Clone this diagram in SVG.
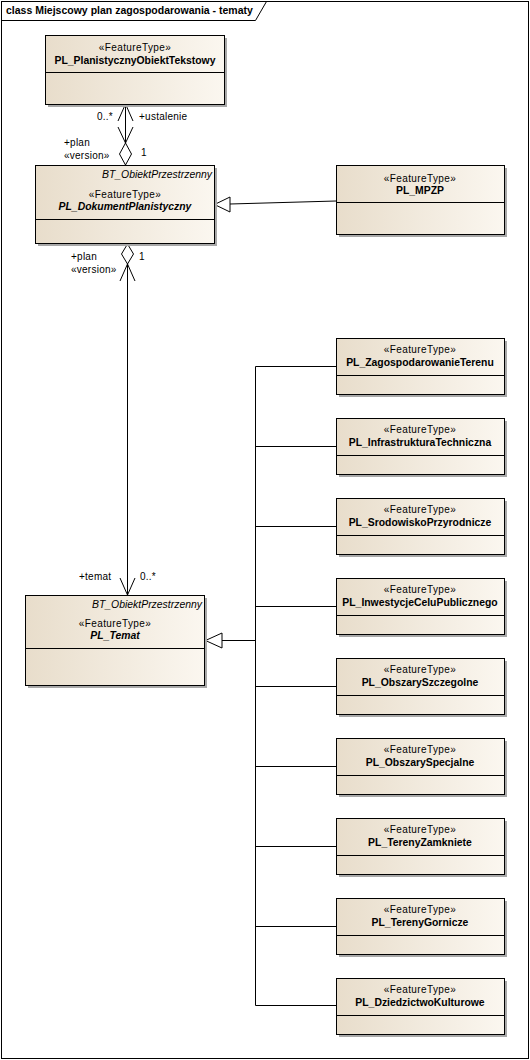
<svg xmlns="http://www.w3.org/2000/svg" width="530" height="1060" viewBox="0 0 530 1060">
<defs>
<linearGradient id="fill" x1="0" y1="0" x2="1" y2="0">
<stop offset="0" stop-color="#e8ddcb"/>
<stop offset="1" stop-color="#fbf7f0"/>
</linearGradient>
<style>
.box{fill:url(#fill);stroke:#000;stroke-width:1}
.sh{fill:#a8a8a8}
.sep{stroke:#000;stroke-width:1}
.st{font-family:"Liberation Sans",Arial,sans-serif;font-size:10px;letter-spacing:0.4px;text-anchor:middle;fill:#000}
.nm{font-family:"Liberation Sans",Arial,sans-serif;font-size:10.4px;font-weight:bold;text-anchor:middle;fill:#000}
.it{font-style:italic}
.par{font-family:"Liberation Sans",Arial,sans-serif;font-size:10px;font-style:italic;text-anchor:end;fill:#000}
.lb{font-family:"Liberation Sans",Arial,sans-serif;font-size:10px;letter-spacing:0.25px;fill:#000}
.ln{fill:none;stroke:#000;stroke-width:1}
.tri{fill:#fff;stroke:#000;stroke-width:1}
</style>
</defs>
<rect x="0" y="0" width="530" height="1060" fill="#fff"/>
<g id="frame">
<rect x="1.5" y="1.5" width="527" height="1057" fill="none" stroke="#000"/>
<path d="M1.5 20.5 H255.5 L266.5 1.5" fill="none" stroke="#000"/>
<text x="6" y="14" font-family="Liberation Sans,Arial,sans-serif" font-size="10.5px" font-weight="bold">class Miejscowy plan zagospodarowania - tematy</text>
</g>
<g id="connectors">
<line class="ln" x1="125.5" y1="104" x2="125.5" y2="143"/>
<polyline class="ln" points="118,121 125.5,104 133,121"/>
<polyline class="ln" points="118,127 125.5,143 133,127"/>
<polygon class="tri" points="125.5,143 131.5,154 125.5,165 119.5,154"/>
<text class="lb" x="97" y="120">0..*</text>
<text class="lb" x="139" y="120">+ustalenie</text>
<text class="lb" x="64" y="146">+plan</text>
<text class="lb" x="64" y="159">«version»</text>
<text class="lb" x="141" y="156">1</text>
<line class="ln" x1="230" y1="204" x2="336" y2="201"/>
<polygon class="tri" points="214.5,204.5 230,197 230,212"/>
<line class="ln" x1="127.5" y1="263" x2="127.5" y2="595"/>
<polygon class="tri" points="127.5,244 133.5,254 127.5,264 121.5,254"/>
<polyline class="ln" points="120,281 127.5,264 135,281"/>
<polyline class="ln" points="120,578 127.5,595 135,578"/>
<text class="lb" x="71" y="260">+plan</text>
<text class="lb" x="71" y="273">«version»</text>
<text class="lb" x="139" y="260">1</text>
<text class="lb" x="79" y="580">+temat</text>
<text class="lb" x="140" y="580">0..*</text>
<polyline class="ln" points="336,366.5 255.5,366.5 255.5,1005.5 336,1005.5"/>
<line class="ln" x1="255.5" y1="446.5" x2="336" y2="446.5"/>
<line class="ln" x1="255.5" y1="526.5" x2="336" y2="526.5"/>
<line class="ln" x1="255.5" y1="606.5" x2="336" y2="606.5"/>
<line class="ln" x1="255.5" y1="686.5" x2="336" y2="686.5"/>
<line class="ln" x1="255.5" y1="766.5" x2="336" y2="766.5"/>
<line class="ln" x1="255.5" y1="846.5" x2="336" y2="846.5"/>
<line class="ln" x1="255.5" y1="926.5" x2="336" y2="926.5"/>
<line class="ln" x1="222" y1="640.5" x2="255.5" y2="640.5"/>
<polygon class="tri" points="205.5,640.5 222,633 222,648"/>
</g>
<g id="PL_PlanistycznyObiektTekstowy">
<rect class="sh" x="48" y="38" width="179" height="69"/>
<rect class="box" x="45.5" y="35.5" width="179" height="69"/>
<line class="sep" x1="45.5" y1="72.5" x2="224.5" y2="72.5"/>
<text class="st" x="135" y="51">«FeatureType»</text>
<text class="nm" x="135" y="64">PL_PlanistycznyObiektTekstowy</text>
</g>
<g id="PL_DokumentPlanistyczny">
<rect class="sh" x="38" y="168" width="179" height="78"/>
<rect class="box" x="35.5" y="165.5" width="179" height="78"/>
<line class="sep" x1="35.5" y1="219.5" x2="214.5" y2="219.5"/>
<text class="par" x="212" y="178" textLength="110" lengthAdjust="spacingAndGlyphs">BT_ObiektPrzestrzenny</text>
<text class="st" x="125" y="198">«FeatureType»</text>
<text class="nm it" x="125" y="210">PL_DokumentPlanistyczny</text>
</g>
<g id="PL_MPZP">
<rect class="sh" x="339" y="168" width="168" height="69"/>
<rect class="box" x="336.5" y="165.5" width="168" height="69"/>
<line class="sep" x1="336.5" y1="202.5" x2="504.5" y2="202.5"/>
<text class="st" x="420" y="182">«FeatureType»</text>
<text class="nm" x="420" y="194">PL_MPZP</text>
</g>
<g id="PL_Temat">
<rect class="sh" x="28" y="598" width="179" height="90"/>
<rect class="box" x="25.5" y="595.5" width="179" height="90"/>
<line class="sep" x1="25.5" y1="648.5" x2="204.5" y2="648.5"/>
<text class="par" x="202" y="608" textLength="110" lengthAdjust="spacingAndGlyphs">BT_ObiektPrzestrzenny</text>
<text class="st" x="115" y="627">«FeatureType»</text>
<text class="nm it" x="115" y="639">PL_Temat</text>
</g>
<g id="PL_ZagospodarowanieTerenu">
<rect class="sh" x="339" y="341" width="168" height="56"/>
<rect class="box" x="336.5" y="338.5" width="168" height="56"/>
<line class="sep" x1="336.5" y1="375.5" x2="504.5" y2="375.5"/>
<text class="st" x="420" y="353">«FeatureType»</text>
<text class="nm" x="420" y="366">PL_ZagospodarowanieTerenu</text>
</g>
<g id="PL_InfrastrukturaTechniczna">
<rect class="sh" x="339" y="421" width="168" height="56"/>
<rect class="box" x="336.5" y="418.5" width="168" height="56"/>
<line class="sep" x1="336.5" y1="455.5" x2="504.5" y2="455.5"/>
<text class="st" x="420" y="433">«FeatureType»</text>
<text class="nm" x="420" y="446">PL_InfrastrukturaTechniczna</text>
</g>
<g id="PL_SrodowiskoPrzyrodnicze">
<rect class="sh" x="339" y="501" width="168" height="56"/>
<rect class="box" x="336.5" y="498.5" width="168" height="56"/>
<line class="sep" x1="336.5" y1="535.5" x2="504.5" y2="535.5"/>
<text class="st" x="420" y="513">«FeatureType»</text>
<text class="nm" x="420" y="526">PL_SrodowiskoPrzyrodnicze</text>
</g>
<g id="PL_InwestycjeCeluPublicznego">
<rect class="sh" x="339" y="581" width="168" height="56"/>
<rect class="box" x="336.5" y="578.5" width="168" height="56"/>
<line class="sep" x1="336.5" y1="615.5" x2="504.5" y2="615.5"/>
<text class="st" x="420" y="593">«FeatureType»</text>
<text class="nm" x="420" y="606">PL_InwestycjeCeluPublicznego</text>
</g>
<g id="PL_ObszarySzczegolne">
<rect class="sh" x="339" y="661" width="168" height="56"/>
<rect class="box" x="336.5" y="658.5" width="168" height="56"/>
<line class="sep" x1="336.5" y1="695.5" x2="504.5" y2="695.5"/>
<text class="st" x="420" y="673">«FeatureType»</text>
<text class="nm" x="420" y="686">PL_ObszarySzczegolne</text>
</g>
<g id="PL_ObszarySpecjalne">
<rect class="sh" x="339" y="741" width="168" height="56"/>
<rect class="box" x="336.5" y="738.5" width="168" height="56"/>
<line class="sep" x1="336.5" y1="775.5" x2="504.5" y2="775.5"/>
<text class="st" x="420" y="753">«FeatureType»</text>
<text class="nm" x="420" y="766">PL_ObszarySpecjalne</text>
</g>
<g id="PL_TerenyZamkniete">
<rect class="sh" x="339" y="821" width="168" height="56"/>
<rect class="box" x="336.5" y="818.5" width="168" height="56"/>
<line class="sep" x1="336.5" y1="855.5" x2="504.5" y2="855.5"/>
<text class="st" x="420" y="833">«FeatureType»</text>
<text class="nm" x="420" y="846">PL_TerenyZamkniete</text>
</g>
<g id="PL_TerenyGornicze">
<rect class="sh" x="339" y="901" width="168" height="56"/>
<rect class="box" x="336.5" y="898.5" width="168" height="56"/>
<line class="sep" x1="336.5" y1="935.5" x2="504.5" y2="935.5"/>
<text class="st" x="420" y="913">«FeatureType»</text>
<text class="nm" x="420" y="926">PL_TerenyGornicze</text>
</g>
<g id="PL_DziedzictwoKulturowe">
<rect class="sh" x="339" y="981" width="168" height="56"/>
<rect class="box" x="336.5" y="978.5" width="168" height="56"/>
<line class="sep" x1="336.5" y1="1015.5" x2="504.5" y2="1015.5"/>
<text class="st" x="420" y="993">«FeatureType»</text>
<text class="nm" x="420" y="1006">PL_DziedzictwoKulturowe</text>
</g>
</svg>
